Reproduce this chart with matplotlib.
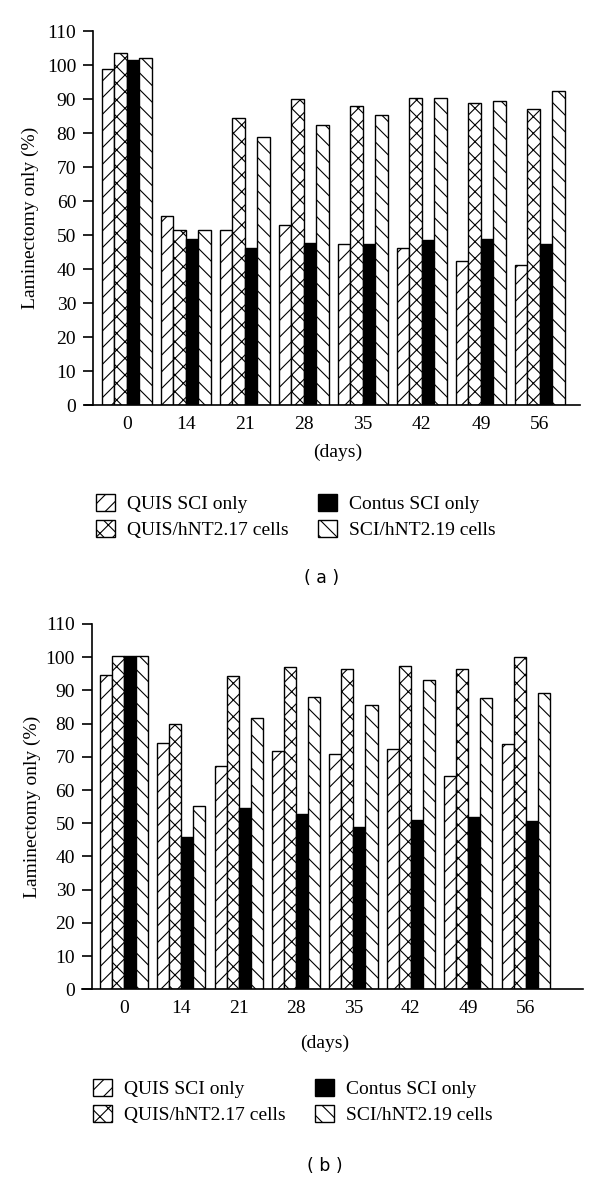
import numpy as np
import matplotlib
matplotlib.use('Agg')
import matplotlib.pyplot as plt

# Data
days = ['0', '14', '21', '28', '35', '42', '49', '56']
series_names = ['QUIS SCI only', 'QUIS/hNT2.17 cells', 'Contus SCI only', 'SCI/hNT2.19 cells']

# panel (a)
a_quis = [98.7, 55.6, 51.5, 52.8, 47.5, 46.3, 42.5, 41.3]
a_quis_hnt17 = [103.6, 51.5, 84.3, 89.9, 88.0, 90.4, 88.8, 87.2]
a_contus = [101.6, 48.8, 46.2, 47.6, 47.5, 48.6, 48.9, 47.5]
a_sci_hnt19 = [102.0, 51.5, 78.8, 82.4, 85.3, 90.2, 89.4, 92.3]

# panel (b)
b_quis = [94.5, 74.3, 67.2, 71.7, 70.9, 72.5, 64.2, 73.9]
b_quis_hnt17 = [100.5, 79.9, 94.2, 97.1, 96.6, 97.4, 96.4, 100.1]
b_contus = [100.4, 45.9, 54.5, 52.9, 49.0, 51.0, 51.9, 50.6]
b_sci_hnt19 = [100.5, 55.1, 81.6, 87.9, 85.7, 93.0, 87.6, 89.1]

plt.rcParams['font.family'] = ['Liberation Serif', 'DejaVu Serif']
plt.rcParams['hatch.linewidth'] = 0.8

hatches = ['//', 'xx', '', '\\\\']
fills = ['white', 'white', 'black', 'white']
fs = 14

fig = plt.figure(figsize=(6, 11.8), dpi=100)


def draw_panel(rect, values, xlim, spine_x, ylab_xy, xlab_xy, leg_xy, cap_xy, cap):
    ax = fig.add_axes(rect)
    x = np.arange(len(days))
    w = 0.21
    handles = []
    for i, vals in enumerate(values):
        b = ax.bar(x + (i - 1.5) * w, vals, w, color=fills[i], edgecolor='black',
                   linewidth=1.0, hatch=hatches[i], label=series_names[i])
        handles.append(b)
    ax.set_xlim(*xlim)
    ax.set_ylim(0, 110)
    ax.set_yticks(np.arange(0, 111, 10))
    ax.set_xticks(x)
    ax.set_xticklabels(days)
    ax.spines['top'].set_visible(False)
    ax.spines['right'].set_visible(False)
    ax.spines['left'].set_position(('data', spine_x))
    ax.spines['left'].set_linewidth(1.2)
    ax.spines['bottom'].set_linewidth(1.2)
    ax.tick_params(axis='y', length=7, width=1.2, pad=5, labelsize=fs)
    ax.tick_params(axis='x', length=0, pad=8, labelsize=fs)
    ax.set_ylabel('Laminectomy only (%)', fontsize=fs)
    ax.yaxis.set_label_coords(*ylab_xy)
    ax.set_xlabel('(days)', fontsize=fs)
    ax.xaxis.set_label_coords(*xlab_xy)
    ax.legend(handles, series_names, ncol=2, loc='upper left',
              bbox_to_anchor=leg_xy, bbox_transform=fig.transFigure,
              frameon=False, fontsize=fs, borderpad=0, borderaxespad=0,
              handlelength=1.0, handleheight=0.95, handletextpad=0.6,
              labelspacing=0.35, columnspacing=1.5)
    fig.text(cap_xy[0], cap_xy[1], cap, ha='center', va='center',
             family='DejaVu Sans', fontsize=12.5)
    return ax


draw_panel([85 / 600, 1 - 405 / 1180, 495 / 600, 374 / 1180],
           [a_quis, a_quis_hnt17, a_contus, a_sci_hnt19],
           (-0.71, 7.68), -0.576, (-0.093, 0.5), (0.511, -0.104),
           (96 / 600, 1 - 494 / 1180), (322 / 600, 1 - 578 / 1180), '( a )')

draw_panel([82 / 600, 1 - 989.3 / 1180, 501 / 600, 365.3 / 1180],
           [b_quis, b_quis_hnt17, b_contus, b_sci_hnt19],
           (-0.73, 8.0), -0.56, (-0.082, 0.5), (0.485, -0.123),
           (93 / 600, 1 - 1079 / 1180), (325 / 600, 1 - 1166 / 1180), '( b )')

fig.savefig('out.png', dpi=100)
